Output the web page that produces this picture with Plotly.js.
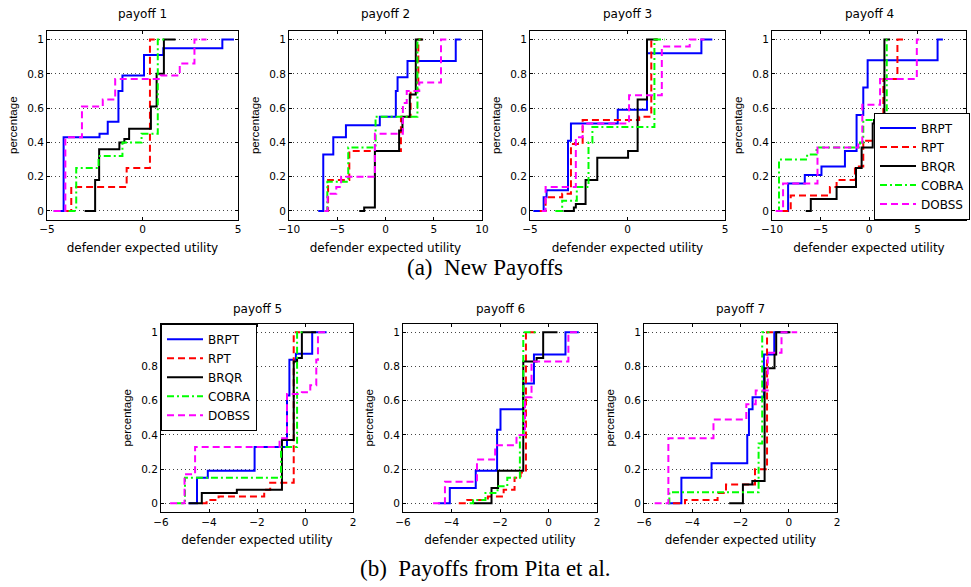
<!DOCTYPE html>
<html>
<head>
<meta charset="utf-8">
<script src="https://cdn.plot.ly/plotly-3.0.1.min.js"></script>
<style>html,body{margin:0;padding:0;background:#fff;}#chart{width:971px;height:587px;}</style>
</head>
<body>
<div id="chart"></div>
<script>
// ---------- Data ----------
const SERIES = ['BRPT', 'RPT', 'BRQR', 'COBRA', 'DOBSS'];
const PANEL_TITLES = ['payoff 1', 'payoff 2', 'payoff 3', 'payoff 4', 'payoff 5', 'payoff 6', 'payoff 7'];
const Y_TICKS = [0, 0.2, 0.4, 0.6, 0.8, 1];
const X_TICKS_A = [-5, 0, 5];
const X_TICKS_B = [-10, -5, 0, 5, 10];
const X_TICKS_C = [-6, -4, -2, 0, 2];

// payoff 1
const P1_BRPT_X = [-4.65, -4.13, -2.25, -1.82, -1.26, -1.05, 0.08, 1.09, 4.18, 4.79];
const P1_BRPT_Y = [0, 0.43, 0.45, 0.52, 0.70, 0.79, 0.91, 0.95, 1.0, 1.0];
const P1_RPT_X = [-4.0, -3.73, -0.83, 0.39, 0.74];
const P1_RPT_Y = [0, 0.14, 0.25, 1.0, 1.0];
const P1_BRQR_X = [-3.03, -2.48, -2.27, -1.21, -0.95, -0.70, 0.44, 0.74, 1.12, 1.73];
const P1_BRQR_Y = [0, 0.18, 0.36, 0.40, 0.42, 0.48, 0.61, 0.80, 1.0, 1.0];
const P1_COBRA_X = [-3.87, -3.47, -2.30, -1.05, -0.05, 0.80, 1.30];
const P1_COBRA_Y = [0, 0.25, 0.32, 0.40, 0.45, 1.0, 1.0];
const P1_DOBSS_X = [-4.65, -4.04, -3.17, -2.08, -1.43, 0.95, 1.95, 2.72, 3.35];
const P1_DOBSS_Y = [0, 0.43, 0.61, 0.65, 0.77, 0.79, 0.86, 1.0, 1.0];

// payoff 2
const P2_BRPT_X = [-6.97, -6.45, -5.41, -4.10, -0.59, 1.07, 1.25, 2.28, 7.28, 7.8];
const P2_BRPT_Y = [0, 0.33, 0.43, 0.50, 0.55, 0.70, 0.78, 0.875, 1.0, 1.0];
const P2_RPT_X = [-6.3, -5.95, -3.75, 1.6, 2.6, 3.4, 3.8];
const P2_RPT_Y = [0, 0.18, 0.35, 0.55, 0.70, 1.0, 1.0];
const P2_BRQR_X = [-2.72, -2.21, -1.10, 1.41, 1.76, 2.52, 3.14, 3.9];
const P2_BRQR_Y = [0, 0.02, 0.35, 0.47, 0.55, 0.68, 1.0, 1.0];
const P2_COBRA_X = [-6.28, -6.03, -3.86, -1.03, 3.31, 3.72];
const P2_COBRA_Y = [0, 0.17, 0.37, 0.55, 1.0, 1.0];
const P2_DOBSS_X = [-6.3, -6.0, -5.1, -4.6, -1.1, 1.8, 2.2, 3.5, 5.75, 6.3];
const P2_DOBSS_Y = [0, 0.10, 0.14, 0.20, 0.45, 0.63, 0.70, 0.75, 1.0, 1.0];

// payoff 3
const P3_BRPT_X = [-4.83, -4.3, -4.15, -3.05, -2.9, -0.5, 1.0, 3.79, 4.35];
const P3_BRPT_Y = [0, 0.08, 0.12, 0.41, 0.51, 0.59, 0.92, 1.0, 1.0];
const P3_RPT_X = [-4.5, -4.2, -3.35, -2.9, -2.3, 0.6, 1.22, 1.55];
const P3_RPT_Y = [0, 0.08, 0.10, 0.39, 0.53, 0.55, 1.0, 1.0];
const P3_BRQR_X = [-3.28, -2.75, -2.65, -2.15, -1.55, 0.03, 0.52, 1.0, 1.55];
const P3_BRQR_Y = [0, 0.02, 0.04, 0.18, 0.31, 0.35, 0.65, 1.0, 1.0];
const P3_COBRA_X = [-3.7, -3.35, -2.6, -2.0, -1.8, 1.38, 1.9];
const P3_COBRA_Y = [0, 0.06, 0.14, 0.40, 0.49, 1.0, 1.0];
const P3_DOBSS_X = [-4.4, -4.2, -2.65, -2.3, 0.08, 1.76, 3.19, 3.95];
const P3_DOBSS_Y = [0, 0.14, 0.43, 0.51, 0.675, 0.96, 1.0, 1.0];

// payoff 4
const P4_BRPT_X = [-9.55, -8.34, -6.62, -4.9, -2.48, -1.28, -0.59, -0.14, 7.07, 7.62];
const P4_BRPT_Y = [0, 0.16, 0.21, 0.26, 0.35, 0.56, 0.72, 0.88, 1.0, 1.0];
const P4_RPT_X = [-9.03, -8.07, -4.03, -3.34, -1.45, -0.59, 1.48, 2.93, 3.55];
const P4_RPT_Y = [0, 0.09, 0.14, 0.18, 0.26, 0.41, 0.77, 1.0, 1.0];
const P4_BRQR_X = [-6.52, -6.0, -3.34, -1.34, -0.76, 0.38, 0.52, 1.59, 2.17];
const P4_BRQR_Y = [0, 0.07, 0.14, 0.25, 0.37, 0.51, 0.53, 1.0, 1.0];
const P4_COBRA_X = [-9.55, -9.28, -6.38, -5.41, -0.93, -0.59, 1.83, 2.17];
const P4_COBRA_Y = [0, 0.30, 0.33, 0.37, 0.40, 0.53, 1.0, 1.0];
const P4_DOBSS_X = [-9.62, -8.86, -5.31, -1.1, -0.69, 1.14, 4.93, 5.45];
const P4_DOBSS_Y = [0, 0.16, 0.37, 0.40, 0.62, 0.77, 1.0, 1.0];

// payoff 5
const P5_BRPT_X = [-4.85, -4.5, -4.05, -2.1, -0.75, -0.65, -0.38, 0.3, 0.9];
const P5_BRPT_Y = [0, 0.15, 0.19, 0.33, 0.63, 0.84, 0.875, 1.0, 1.0];
const P5_RPT_X = [-4.3, -4.1, -3.6, -1.7, -1.45, -0.47, -0.2];
const P5_RPT_Y = [0, 0.02, 0.04, 0.08, 0.12, 1.0, 1.0];
const P5_BRQR_X = [-4.85, -4.3, -2.84, -0.96, -0.47, -0.33, -0.13, 0.46];
const P5_BRQR_Y = [0, 0.06, 0.08, 0.37, 0.83, 0.85, 1.0, 1.0];
const P5_COBRA_X = [-5.35, -5.0, -1.0, -0.33, 0.0];
const P5_COBRA_Y = [0, 0.15, 0.33, 1.0, 1.0];
const P5_DOBSS_X = [-5.62, -5.02, -4.58, -1.06, -0.75, -0.13, 0.22, 0.47, 0.54, 0.92];
const P5_DOBSS_Y = [0, 0.17, 0.33, 0.38, 0.64, 0.65, 0.69, 0.84, 1.0, 1.0];

// payoff 6
const P6_BRPT_X = [-4.55, -4.07, -3.0, -2.12, -1.98, -1.04, -0.60, 0.7, 1.25];
const P6_BRPT_Y = [0, 0.09, 0.19, 0.43, 0.55, 0.70, 0.87, 1.0, 1.0];
const P6_RPT_X = [-3.7, -3.35, -2.5, -1.85, -1.4, -1.15, -0.93, -0.55];
const P6_RPT_Y = [0, 0.02, 0.04, 0.08, 0.15, 0.18, 1.0, 1.0];
const P6_BRQR_X = [-3.1, -2.35, -2.08, -1.04, -0.49, -0.22, 0.37];
const P6_BRQR_Y = [0, 0.09, 0.19, 0.83, 0.85, 1.0, 1.0];
const P6_COBRA_X = [-3.25, -3.11, -2.6, -2.1, -1.7, -1.18, -1.04, -0.49];
const P6_COBRA_Y = [0, 0.02, 0.06, 0.10, 0.15, 0.40, 1.0, 1.0];
const P6_DOBSS_X = [-4.76, -4.27, -2.95, -2.2, -1.32, -0.97, -0.70, 0.82, 1.23];
const P6_DOBSS_Y = [0, 0.126, 0.257, 0.34, 0.40, 0.62, 0.83, 1.0, 1.0];

// payoff 7
const P7_BRPT_X = [-5.0, -4.45, -3.2, -1.72, -1.65, -1.5, -1.03, -0.6, 0.0];
const P7_BRPT_Y = [0, 0.15, 0.235, 0.40, 0.55, 0.62, 0.87, 1.0, 1.0];
const P7_RPT_X = [-4.8, -4.3, -2.95, -2.6, -1.4, -0.9, -0.55];
const P7_RPT_Y = [0, 0.02, 0.06, 0.11, 0.20, 1.0, 1.0];
const P7_BRQR_X = [-2.47, -1.9, -1.51, -1.0, -0.59, -0.52, 0.07];
const P7_BRQR_Y = [0, 0.11, 0.13, 0.79, 0.87, 1.0, 1.0];
const P7_COBRA_X = [-5.0, -4.95, -1.25, -1.1, -0.8];
const P7_COBRA_Y = [0, 0.065, 0.35, 1.0, 1.0];
const P7_DOBSS_X = [-5.56, -4.99, -3.12, -1.76, -1.37, -0.87, -0.3, 0.35];
const P7_DOBSS_Y = [0, 0.38, 0.49, 0.58, 0.66, 0.88, 1.0, 1.0];

// ---------- Assembly ----------
const PANELS = [
  [[P1_BRPT_X, P1_BRPT_Y], [P1_RPT_X, P1_RPT_Y], [P1_BRQR_X, P1_BRQR_Y], [P1_COBRA_X, P1_COBRA_Y], [P1_DOBSS_X, P1_DOBSS_Y]],
  [[P2_BRPT_X, P2_BRPT_Y], [P2_RPT_X, P2_RPT_Y], [P2_BRQR_X, P2_BRQR_Y], [P2_COBRA_X, P2_COBRA_Y], [P2_DOBSS_X, P2_DOBSS_Y]],
  [[P3_BRPT_X, P3_BRPT_Y], [P3_RPT_X, P3_RPT_Y], [P3_BRQR_X, P3_BRQR_Y], [P3_COBRA_X, P3_COBRA_Y], [P3_DOBSS_X, P3_DOBSS_Y]],
  [[P4_BRPT_X, P4_BRPT_Y], [P4_RPT_X, P4_RPT_Y], [P4_BRQR_X, P4_BRQR_Y], [P4_COBRA_X, P4_COBRA_Y], [P4_DOBSS_X, P4_DOBSS_Y]],
  [[P5_BRPT_X, P5_BRPT_Y], [P5_RPT_X, P5_RPT_Y], [P5_BRQR_X, P5_BRQR_Y], [P5_COBRA_X, P5_COBRA_Y], [P5_DOBSS_X, P5_DOBSS_Y]],
  [[P6_BRPT_X, P6_BRPT_Y], [P6_RPT_X, P6_RPT_Y], [P6_BRQR_X, P6_BRQR_Y], [P6_COBRA_X, P6_COBRA_Y], [P6_DOBSS_X, P6_DOBSS_Y]],
  [[P7_BRPT_X, P7_BRPT_Y], [P7_RPT_X, P7_RPT_Y], [P7_BRQR_X, P7_BRQR_Y], [P7_COBRA_X, P7_COBRA_Y], [P7_DOBSS_X, P7_DOBSS_Y]]
];

const STYLE = {
  BRPT:  {color: '#0000ff', dash: 'solid'},
  RPT:   {color: '#ff0000', dash: '7px,4px'},
  BRQR:  {color: '#000000', dash: 'solid'},
  COBRA: {color: '#00ff00', dash: '7px,3px,2px,3px'},
  DOBSS: {color: '#ff00ff', dash: '7px,4px'}
};

const W = 971, H = 587;
// pixel boxes [left, right, top, bottom]
const BOX = [
  [47, 238, 31, 219.5], [289, 482, 31, 219.5], [530, 725, 31, 219.5], [772, 966, 31, 219.5],
  [161, 353, 323.75, 511.9], [403, 597, 323.75, 511.9], [644, 837, 323.75, 511.9]
];
const XRANGES = [[-5, 5], [-10, 10], [-5, 5], [-10, 10], [-6, 2], [-6, 2], [-6, 2]];
const XTICKS = [X_TICKS_A, X_TICKS_B, X_TICKS_A, X_TICKS_B, X_TICKS_C, X_TICKS_C, X_TICKS_C];

const SANS = 'DejaVu Sans, sans-serif';
const traces = [];
const layout = {
  width: W, height: H,
  margin: {l: 0, r: 0, t: 0, b: 0},
  paper_bgcolor: '#ffffff', plot_bgcolor: '#ffffff',
  font: {family: SANS, color: '#000'},
  annotations: [],
  legend: {
    x: 970 / W, xanchor: 'right', y: 1 - 219.5 / H, yanchor: 'bottom',
    bgcolor: '#ffffff', bordercolor: '#000', borderwidth: 1,
    font: {family: SANS, size: 12, color: '#000'}, itemwidth: 36, tracegroupgap: 0
  },
  legend2: {
    x: 161 / W, xanchor: 'left', y: 1 - 323.75 / H, yanchor: 'top',
    bgcolor: '#ffffff', bordercolor: '#000', borderwidth: 1,
    font: {family: SANS, size: 12, color: '#000'}, itemwidth: 36, tracegroupgap: 0
  }
};

PANELS.forEach((panel, i) => {
  const n = i + 1;
  const xa = n === 1 ? 'x' : 'x' + n;
  const ya = n === 1 ? 'y' : 'y' + n;
  const b = BOX[i];
  panel.forEach((xy, s) => {
    const name = SERIES[s];
    let legendRef = null;
    if (n === 4) legendRef = 'legend';
    if (n === 5) legendRef = 'legend2';
    const t = {
      type: 'scatter', mode: 'lines', name: name,
      x: xy[0], y: xy[1], xaxis: xa, yaxis: ya,
      line: {shape: 'hv', width: 2, color: STYLE[name].color, dash: STYLE[name].dash},
      showlegend: legendRef !== null, hoverinfo: 'skip'
    };
    if (legendRef) t.legend = legendRef;
    traces.push(t);
  });
  const common = {
    showline: true, linecolor: '#000', linewidth: 1, mirror: 'ticks',
    ticks: 'inside', ticklen: 3, tickcolor: '#000', zeroline: false
  };
  layout['xaxis' + (n === 1 ? '' : n)] = Object.assign({}, common, {
    domain: [b[0] / W, b[1] / W], anchor: ya, range: XRANGES[i],
    tickmode: 'array', tickvals: XTICKS[i], showgrid: false,
    tickfont: {family: SANS, size: 10.5, color: '#000'},
    title: {text: 'defender expected utility', font: {family: SANS, size: 12, color: '#000'}, standoff: 9}
  });
  layout['yaxis' + (n === 1 ? '' : n)] = Object.assign({}, common, {
    domain: [1 - b[3] / H, 1 - b[2] / H], anchor: xa, range: [-0.05, 1.05],
    tickmode: 'array', tickvals: Y_TICKS, showgrid: true,
    gridcolor: '#444', gridwidth: 1, griddash: '1px,3px',
    tickfont: {family: SANS, size: 10.5, color: '#000'},
    title: {text: 'percentage', font: {family: 'Liberation Sans, Arial, sans-serif', size: 11.5, color: '#000'}, standoff: 7}
  });
  layout.annotations.push({
    text: PANEL_TITLES[i], xref: 'paper', yref: 'paper',
    x: (b[0] + b[1]) / 2 / W, y: 1 - b[2] / H, xanchor: 'center', yanchor: 'middle',
    yshift: n <= 4 ? 17 : 15, showarrow: false,
    font: {family: SANS, size: 12, color: '#000'}
  });
});

layout.annotations.push({
  text: '(a)  New Payoffs', xref: 'paper', yref: 'paper', x: 485 / W, y: 1 - 267 / H,
  xanchor: 'center', yanchor: 'middle', showarrow: false,
  font: {family: 'Liberation Serif, Times New Roman, serif', size: 23, color: '#000'}
});
layout.annotations.push({
  text: '(b)  Payoffs from Pita et al.', xref: 'paper', yref: 'paper', x: 485 / W, y: 1 - 568 / H,
  xanchor: 'center', yanchor: 'middle', showarrow: false,
  font: {family: 'Liberation Serif, Times New Roman, serif', size: 23, color: '#000'}
});

Plotly.newPlot('chart', traces, layout, {staticPlot: true, displayModeBar: false});
</script>
</body>
</html>
